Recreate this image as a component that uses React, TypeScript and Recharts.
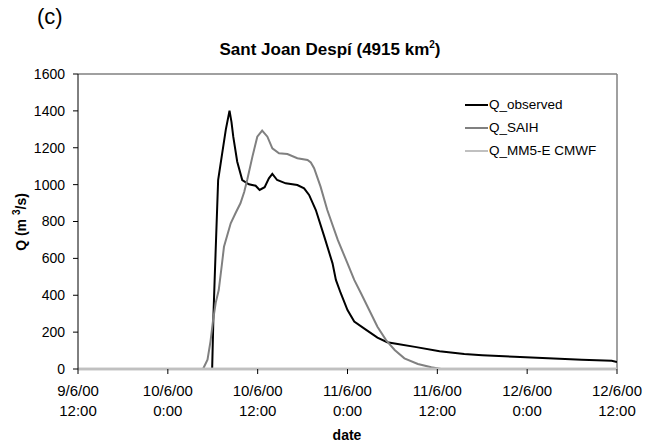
import React from 'react';
import { LineChart, Line, XAxis, YAxis, Legend, ReferenceLine } from 'recharts';

// hours since 9/6/00 12:00
const obsHours = [16.9, 17.92, 18.1, 18.25, 18.72, 19.26, 19.75, 20.24, 20.5, 20.74, 21.27, 21.94, 22.83, 23.73, 24.26, 24.93, 25.5, 25.96, 26.6, 27.75, 29.3, 30.2, 30.87, 31.77, 32.9, 34.0, 34.45, 35.1, 36.0, 36.9, 38.3, 40.0, 41.3, 42.7, 45.0, 48.3, 51.6, 54.0, 58.3, 62.8, 67.3, 71.3, 72];
const obsValues = [0, 0, 300, 480, 1025, 1170, 1300, 1401, 1340, 1260, 1124, 1025, 1002, 994, 971, 986, 1034, 1058, 1025, 1007, 998, 980, 944, 862, 718, 573, 483, 411, 320, 257, 218, 170, 145, 136, 120, 96, 82, 75, 66, 58, 50, 45, 38];

const saihHours = [16.7, 17.3, 17.7, 18.05, 18.4, 18.8, 19.2, 19.5, 20.4, 21.1, 21.7, 22.2, 22.6, 23.3, 23.95, 24.6, 25.3, 25.96, 26.85, 27.97, 29.3, 30.66, 31.1, 31.54, 32.4, 33.3, 34.7, 36.0, 36.9, 37.8, 38.9, 40.0, 41.15, 42.3, 43.6, 45.4, 47.2, 48.5];
const saihValues = [0, 50, 150, 266, 360, 428, 560, 663, 790, 850, 899, 960, 1025, 1152, 1260, 1293, 1260, 1197, 1170, 1166, 1143, 1134, 1120, 1089, 989, 862, 700, 573, 483, 411, 320, 229, 157, 103, 58, 27, 9, 0];

const mm5Hours = [0, 12, 24, 36, 48, 60, 72];
const mm5Values = [0, 0, 0, 0, 0, 0, 0];

const legendOrder = ['Q_observed', 'Q_SAIH', 'Q_MM5-E CMWF'];

const xTicks = [0, 12, 24, 36, 48, 60, 72];
const xTickLabels = [
  ['9/6/00', '12:00'],
  ['10/6/00', '0:00'],
  ['10/6/00', '12:00'],
  ['11/6/00', '0:00'],
  ['11/6/00', '12:00'],
  ['12/6/00', '0:00'],
  ['12/6/00', '12:00'],
];
const yTicks = [0, 200, 400, 600, 800, 1000, 1200, 1400, 1600];

const toSeries = (hours: number[], values: number[]) => hours.map((h, i) => ({ h, v: values[i] }));
const obsData = toSeries(obsHours, obsValues);
const saihData = toSeries(saihHours, saihValues);
const mm5Data = toSeries(mm5Hours, mm5Values);

const FONT = '"Liberation Sans", Arial, sans-serif';

const XTick = (props: any) => {
  const { x, y, payload } = props;
  const idx = xTicks.indexOf(payload.value);
  const lbl = xTickLabels[idx] || ['', ''];
  return (
    <text x={x} y={y} textAnchor="middle" fontSize={15} fontFamily={FONT} fill="#000">
      <tspan x={x} dy={20}>{lbl[0]}</tspan>
      <tspan x={x} dy={20}>{lbl[1]}</tspan>
    </text>
  );
};

const LegendBox = (props: any) => {
  const items = [...(props.payload || [])].sort(
    (a: any, b: any) => legendOrder.indexOf(a.value) - legendOrder.indexOf(b.value)
  );
  return (
    <div style={{ fontFamily: FONT, fontSize: 13.5, color: '#000' }}>
      {items.map((p: any) => (
        <div key={p.value} style={{ display: 'flex', alignItems: 'center', height: 23 }}>
          <div style={{ width: 23, height: 0, borderTop: `2px solid ${p.color}`, marginRight: 1 }} />
          <span>{p.value}</span>
        </div>
      ))}
    </div>
  );
};

export default function App() {
  return (
    <div style={{ position: 'absolute', left: 0, top: 0, width: 645, height: 448, background: '#fff', fontFamily: FONT }}>
      <div style={{ position: 'absolute', left: 37, top: 4, fontSize: 22, color: '#000' }}>(c)</div>
      <div style={{ position: 'absolute', left: 130, width: 400, top: 39, textAlign: 'center', fontSize: 17, fontWeight: 'bold' }}>
        Sant Joan Despí (4915 km<sup style={{ fontSize: 10 }}>2</sup>)
      </div>
      <div
        style={{
          position: 'absolute', left: 20, top: 222, transform: 'translate(-50%, -50%) rotate(-90deg)',
          whiteSpace: 'nowrap', fontSize: 14, fontWeight: 'bold',
        }}
      >
        Q (m <sup style={{ fontSize: 10 }}>3</sup>/s)
      </div>
      <div style={{ position: 'absolute', left: 322, width: 50, top: 427, textAlign: 'center', fontSize: 14, fontWeight: 'bold' }}>
        date
      </div>
      <LineChart width={645} height={448} margin={{ top: 74, right: 28, left: 28, bottom: 29 }}>
        <XAxis
          type="number"
          dataKey="h"
          domain={[0, 72]}
          ticks={xTicks}
          interval={0}
          height={50}
          tickSize={5}
          tickMargin={2}
          tick={<XTick />}
          axisLine={{ stroke: '#c0c0c0', strokeWidth: 2.5 }}
          tickLine={{ stroke: '#000' }}
          allowDataOverflow
        />
        <YAxis
          type="number"
          domain={[0, 1600]}
          ticks={yTicks}
          interval={0}
          width={50}
          tickSize={5}
          tickMargin={8}
          tick={{ fontSize: 14, fontFamily: FONT, fill: '#000' }}
          stroke="#000"
        />
        <ReferenceLine y={1600} stroke="#808080" strokeWidth={1.5} />
        <ReferenceLine x={72} stroke="#808080" strokeWidth={1.5} />
        <Legend
          content={<LegendBox />}
          layout="horizontal"
          verticalAlign="middle"
          align="center"
          wrapperStyle={{ position: 'absolute', left: 465, top: 93, width: 150 }}
        />
        <Line data={obsData} dataKey="v" name="Q_observed" stroke="#000" strokeWidth={2} dot={false} type="linear" isAnimationActive={false} />
        <Line data={saihData} dataKey="v" name="Q_SAIH" stroke="#808080" strokeWidth={2} dot={false} type="linear" isAnimationActive={false} />
        <Line data={mm5Data} dataKey="v" name="Q_MM5-E CMWF" stroke="#c0c0c0" strokeWidth={2.5} dot={false} type="linear" isAnimationActive={false} />
      </LineChart>
    </div>
  );
}
